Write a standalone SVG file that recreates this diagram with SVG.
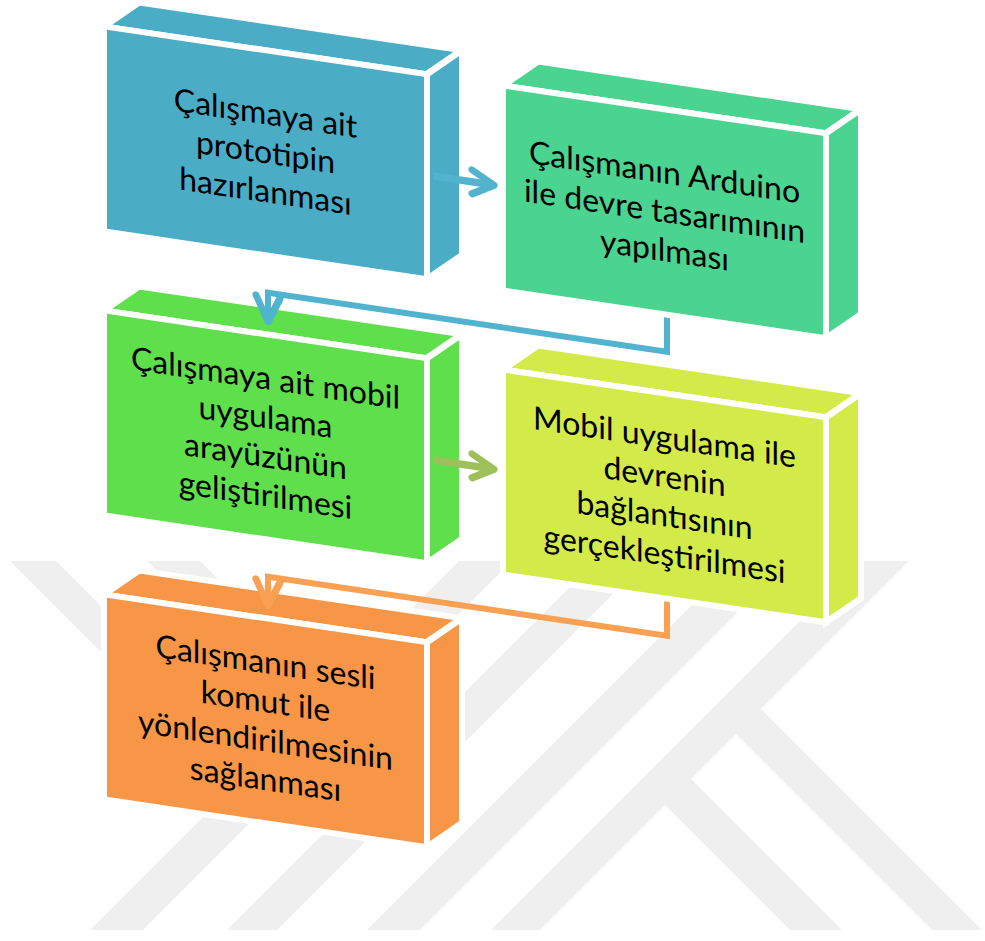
<svg xmlns="http://www.w3.org/2000/svg" width="985" height="941" viewBox="0 0 985 941">
<defs>
<style>
.face{stroke:#ffffff;stroke-width:6;stroke-linejoin:miter}
.t{font-family:Lato,"Open Sans",sans-serif;font-size:32px;fill:#000000;text-anchor:middle}
.wm{fill:#EFEFEF}
.conn{fill:none;stroke-width:6;stroke-linejoin:miter;stroke-linecap:butt}
.shaft{fill:none;stroke-width:7.5;stroke-linecap:butt}
.head{fill:none;stroke-width:7;stroke-linecap:round;stroke-linejoin:round}
.blue{stroke:#51B3CE}
.olive{stroke:#9DC05A}
.orange{stroke:#F9A052}
</style>
<clipPath id="wmclip"><rect x="0" y="561" width="985" height="369"/></clipPath>
</defs>
<rect width="985" height="941" fill="#ffffff"/>
<g id="watermark" class="wm" clip-path="url(#wmclip)">
<polygon points="90,930 143,930 512,561 459,561"/>
<polygon points="227,930 277,930 646,561 596,561"/>
<polygon points="367,930 420,930 789,561 736,561"/>
<polygon points="491,930 540,930 909,561 860,561"/>
<polygon points="756,704 990,938 940,938 731,729"/>
<polygon points="686,774 842,930 790,930 660,800"/>
<polygon points="10,561 56,561 262,767 239,790"/>
<polygon points="147,561 200,561 334,695 308,722"/>
</g>
<g transform="skewY(8.42)">
<g id="n1">
<polygon class="face" fill="#4BACC6" points="104,11 139,-18.2 462,-18.2 427,11"/>
<polygon class="face" fill="#4BACC6" points="427,11 462,-18.2 462,186.8 427,216"/>
<rect class="face" fill="#4BACC6" x="104" y="11" width="323" height="205"/>
<text class="t"><tspan x="265.5" y="85">Çalışmaya ait</tspan><tspan x="265.5" y="124">prototipin</tspan><tspan x="265.5" y="163">hazırlanması</tspan></text>
</g>
<g id="n2">
<polygon class="face" fill="#4BD390" points="503,11 538,-18.2 861,-18.2 826,11"/>
<polygon class="face" fill="#4BD390" points="826,11 861,-18.2 861,186.8 826,216"/>
<rect class="face" fill="#4BD390" x="503" y="11" width="323" height="205"/>
<text class="t"><tspan x="664.5" y="85">Çalışmanın Arduino</tspan><tspan x="664.5" y="124">ile devre tasarımının</tspan><tspan x="664.5" y="163">yapılması</tspan></text>
</g>
<g id="n3">
<polygon class="face" fill="#5EDF4B" points="104,295 139,265.8 462,265.8 427,295"/>
<polygon class="face" fill="#5EDF4B" points="427,295 462,265.8 462,470.8 427,500"/>
<rect class="face" fill="#5EDF4B" x="104" y="295" width="323" height="205"/>
<text class="t"><tspan x="265.5" y="350">Çalışmaya ait mobil</tspan><tspan x="265.5" y="389">uygulama</tspan><tspan x="265.5" y="428">arayüzünün</tspan><tspan x="265.5" y="467">geliştirilmesi</tspan></text>
</g>
<g id="n4">
<polygon class="face" fill="#D3EB48" points="503,295 538,265.8 861,265.8 826,295"/>
<polygon class="face" fill="#D3EB48" points="826,295 861,265.8 861,470.8 826,500"/>
<rect class="face" fill="#D3EB48" x="503" y="295" width="323" height="205"/>
<text class="t"><tspan x="664.5" y="350">Mobil uygulama ile</tspan><tspan x="664.5" y="389">devrenin</tspan><tspan x="664.5" y="428">bağlantısının</tspan><tspan x="664.5" y="467">gerçekleştirilmesi</tspan></text>
</g>
<g id="n5">
<polygon class="face" fill="#F79646" points="104,579 139,549.8 462,549.8 427,579"/>
<polygon class="face" fill="#F79646" points="427,579 462,549.8 462,754.8 427,784"/>
<rect class="face" fill="#F79646" x="104" y="579" width="323" height="205"/>
<text class="t"><tspan x="265.5" y="634">Çalışmanın sesli</tspan><tspan x="265.5" y="673">komut ile</tspan><tspan x="265.5" y="712">yönlendirilmesinin</tspan><tspan x="265.5" y="751">sağlanması</tspan></text>
</g>
<g id="connectors">
<path class="shaft blue" d="M433,112 H490"/>
<path class="head blue" d="M472,100 L494,112 L472,124"/>
<path class="conn blue" d="M667,219 V253 H268 V278"/>
<path class="head blue" d="M256,257 L268,282 L280,257"/>
<path class="shaft olive" d="M433,396 H490"/>
<path class="head olive" d="M472,384 L494,396 L472,408"/>
<path class="conn orange" d="M667,503 V537 H268 V562"/>
<path class="head orange" d="M256,541 L268,566 L280,541"/>
</g>
</g>
</svg>
